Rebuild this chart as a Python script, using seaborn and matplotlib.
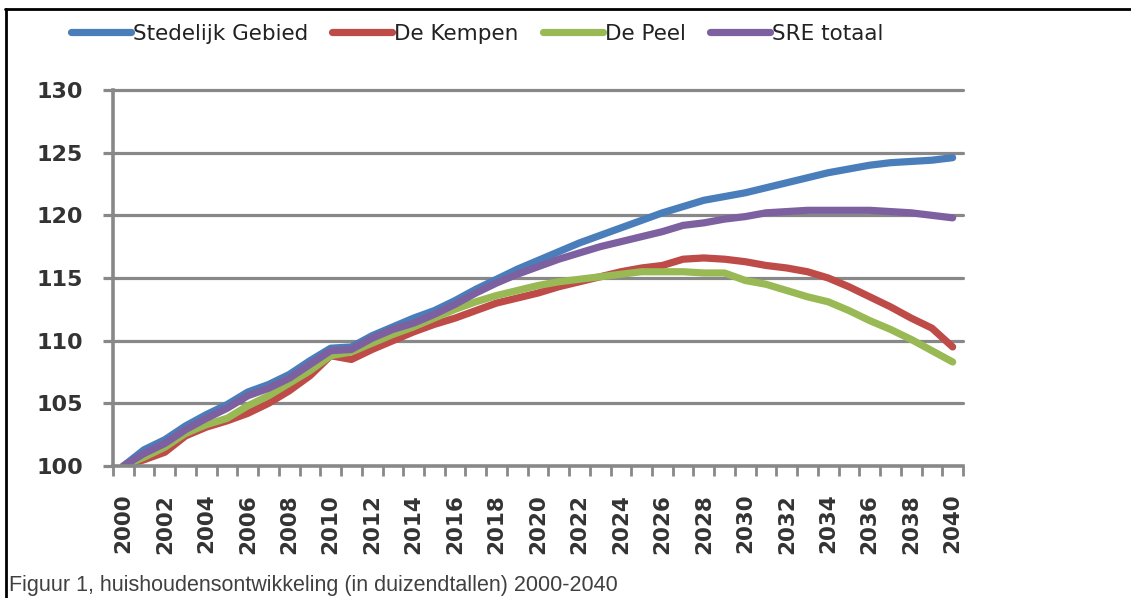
import matplotlib
matplotlib.use("Agg")
import matplotlib.pyplot as plt
import matplotlib.lines as mlines
import numpy as np
import pandas as pd
import seaborn as sns

years = list(range(2000, 2041))

stedelijk_gebied = [100.0, 101.3, 102.1, 103.2, 104.1, 104.9, 105.9, 106.5, 107.3, 108.4,
                    109.4, 109.5, 110.4, 111.1, 111.8, 112.4, 113.2, 114.1, 114.9, 115.7,
                    116.4, 117.1, 117.8, 118.4, 119.0, 119.6, 120.2, 120.7, 121.2, 121.5,
                    121.8, 122.2, 122.6, 123.0, 123.4, 123.7, 124.0, 124.2, 124.3, 124.4,
                    124.6]
de_kempen = [100.0, 100.5, 101.1, 102.4, 103.1, 103.6, 104.2, 105.0, 106.0, 107.2,
             108.8, 108.5, 109.3, 110.0, 110.7, 111.3, 111.8, 112.4, 113.0, 113.4,
             113.8, 114.3, 114.7, 115.1, 115.5, 115.8, 116.0, 116.5, 116.6, 116.5,
             116.3, 116.0, 115.8, 115.5, 115.0, 114.3, 113.5, 112.7, 111.8, 111.0,
             109.5]
de_peel = [100.0, 100.7, 101.5, 102.6, 103.3, 103.8, 104.8, 105.6, 106.6, 107.6,
           108.8, 109.1, 109.8, 110.5, 111.1, 111.8, 112.5, 113.1, 113.6, 114.0,
           114.4, 114.7, 114.9, 115.1, 115.3, 115.5, 115.5, 115.5, 115.4, 115.4,
           114.8, 114.5, 114.0, 113.5, 113.1, 112.4, 111.6, 110.9, 110.1, 109.2,
           108.3]
sre_totaal = [100.0, 101.0, 101.8, 102.9, 103.8, 104.6, 105.6, 106.2, 107.0, 108.1,
              109.2, 109.3, 110.2, 110.9, 111.4, 112.1, 112.9, 113.8, 114.6, 115.3,
              115.9, 116.5, 117.0, 117.5, 117.9, 118.3, 118.7, 119.2, 119.4, 119.7,
              119.9, 120.2, 120.3, 120.4, 120.4, 120.4, 120.4, 120.3, 120.2, 120.0,
              119.8]

series_names = ["Stedelijk Gebied", "De Kempen", "De Peel", "SRE totaal"]
series_values = [stedelijk_gebied, de_kempen, de_peel, sre_totaal]
colors = ["#4A7EBB", "#BE4B48", "#98B954", "#7D60A0"]
y_ticks = [100, 105, 110, 115, 120, 125, 130]
caption = "Figuur 1, huishoudensontwikkeling (in duizendtallen) 2000-2040"

rows = []
for name, vals in zip(series_names, series_values):
    for i, (yr, v) in enumerate(zip(years, vals)):
        rows.append({"idx": i, "year": yr, "value": v, "serie": name})
df = pd.DataFrame(rows)

sns.set_theme(style="white")
plt.rcParams["font.family"] = ["DejaVu Sans"]

fig = plt.figure(figsize=(11.31, 5.98), dpi=100)
ax = fig.add_axes([113 / 1131, 1 - 466 / 598, (963 - 113) / 1131, (466 - 90) / 598])

sns.lineplot(data=df, x="idx", y="value", hue="serie", hue_order=series_names,
             palette=colors, linewidth=5.2, ax=ax, legend=True)
for line in ax.get_lines():
    line.set_solid_capstyle("round")
    line.set_solid_joinstyle("round")

ax.set_xlim(-0.5, len(years) - 0.5)
ax.set_ylim(100, 130)

grid_c = "#888888"
ax.set_yticks(y_ticks)
ax.set_yticklabels([str(t) for t in y_ticks])
for t in y_ticks[1:]:
    ax.axhline(t, color=grid_c, lw=2.3, zorder=0.5, clip_on=False)

ax.set_xticks(np.arange(-0.5, len(years), 1.0))
ax.set_xticklabels([])
ax.set_xticks(np.arange(0, len(years), 2), minor=True)
ax.set_xticklabels([str(y) for y in years[::2]], minor=True, rotation=90)

for s in ["top", "right"]:
    ax.spines[s].set_visible(False)
for s in ["left", "bottom"]:
    ax.spines[s].set_color(grid_c)
    ax.spines[s].set_linewidth(2.6)

ax.tick_params(axis="y", which="major", direction="out", length=7.5, width=2.3,
               color=grid_c, pad=14, labelsize=16, labelcolor="#333333", left=True)
ax.tick_params(axis="x", which="major", direction="out", length=7.5, width=2.0,
               color=grid_c, bottom=True)
ax.tick_params(axis="x", which="minor", length=0, pad=20, labelsize=15.5,
               labelcolor="#333333")
for lab in ax.get_yticklabels() + ax.get_xticklabels(minor=True):
    lab.set_fontweight("bold")

ax.set_xlabel("")
ax.set_ylabel("")

ax.get_legend().remove()
new_handles = [mlines.Line2D([], [], color=c, lw=5.2, solid_capstyle="round")
               for c in colors]
fig.legend(new_handles, series_names, loc="center", ncol=4,
           bbox_to_anchor=(477 / 1131, 1 - 34 / 598), frameon=False,
           fontsize=15.5, handlelength=2.8, handletextpad=0.1, columnspacing=1.1,
           labelcolor="#222222")

fig.add_artist(mlines.Line2D([5 / 1131, 1.0], [1 - 9 / 598, 1 - 9 / 598],
                             color="black", lw=2, transform=fig.transFigure))
fig.add_artist(mlines.Line2D([6 / 1131, 6 / 1131], [0, 1 - 9 / 598],
                             color="black", lw=2, transform=fig.transFigure))

fig.text(9 / 1131, 1 - 586 / 598, caption, fontsize=15.5, color="#404040",
         family=["Liberation Sans"], va="center", ha="left")

fig.savefig("out.png", dpi=100)
